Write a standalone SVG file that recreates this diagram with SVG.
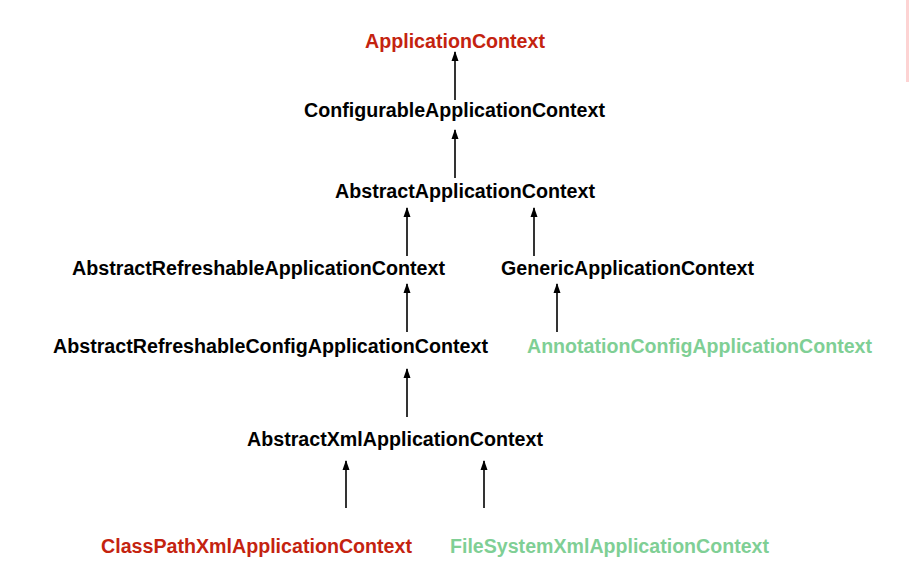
<svg xmlns="http://www.w3.org/2000/svg" width="909" height="572" viewBox="0 0 909 572">
<style>
text{font-family:"Liberation Sans",Arial,sans-serif;font-weight:bold;font-size:19.5px;text-anchor:middle}
.k{fill:#000}
.r{fill:#c4230f}
.g{fill:#7fcf95}
.c line{stroke:#000;stroke-width:1.6;marker-end:url(#ah)}
</style>
<defs>
<marker id="ah" markerUnits="userSpaceOnUse" markerWidth="10" markerHeight="8" refX="9" refY="3.5" orient="auto" viewBox="0 0 10 7">
<path d="M0 0 L10 3.5 L0 7 Z" fill="#000"/>
</marker>
</defs>
<rect x="906" y="0" width="3" height="82" fill="#fdd3d3"/>
<g class="c">
<line x1="455" y1="100" x2="455" y2="52"/>
<line x1="455" y1="178" x2="455" y2="130"/>
<line x1="407" y1="256" x2="407" y2="208"/>
<line x1="534" y1="256" x2="534" y2="208"/>
<line x1="407" y1="332" x2="407" y2="284"/>
<line x1="557" y1="332" x2="557" y2="284"/>
<line x1="407" y1="417" x2="407" y2="369"/>
<line x1="346" y1="508" x2="346" y2="461"/>
<line x1="484" y1="508" x2="484" y2="461"/>
</g>
<g id="n1"><text class="r" x="455" y="48" textLength="180" lengthAdjust="spacingAndGlyphs">ApplicationContext</text></g>
<g id="n2"><text class="k" x="454.5" y="117" textLength="301" lengthAdjust="spacingAndGlyphs">ConfigurableApplicationContext</text></g>
<g id="n3"><text class="k" x="465" y="198" textLength="260" lengthAdjust="spacingAndGlyphs">AbstractApplicationContext</text></g>
<g id="n4"><text class="k" x="258.5" y="275" textLength="373" lengthAdjust="spacingAndGlyphs">AbstractRefreshableApplicationContext</text></g>
<g id="n5"><text class="k" x="627.5" y="275" textLength="253" lengthAdjust="spacingAndGlyphs">GenericApplicationContext</text></g>
<g id="n6"><text class="k" x="270.5" y="353" textLength="435" lengthAdjust="spacingAndGlyphs">AbstractRefreshableConfigApplicationContext</text></g>
<g id="n7"><text class="g" x="699.5" y="353" textLength="345" lengthAdjust="spacingAndGlyphs">AnnotationConfigApplicationContext</text></g>
<g id="n8"><text class="k" x="395" y="446" textLength="296" lengthAdjust="spacingAndGlyphs">AbstractXmlApplicationContext</text></g>
<g id="n9"><text class="r" x="256.5" y="553" textLength="311" lengthAdjust="spacingAndGlyphs">ClassPathXmlApplicationContext</text></g>
<g id="n10"><text class="g" x="609.5" y="553" textLength="319" lengthAdjust="spacingAndGlyphs">FileSystemXmlApplicationContext</text></g>
</svg>
